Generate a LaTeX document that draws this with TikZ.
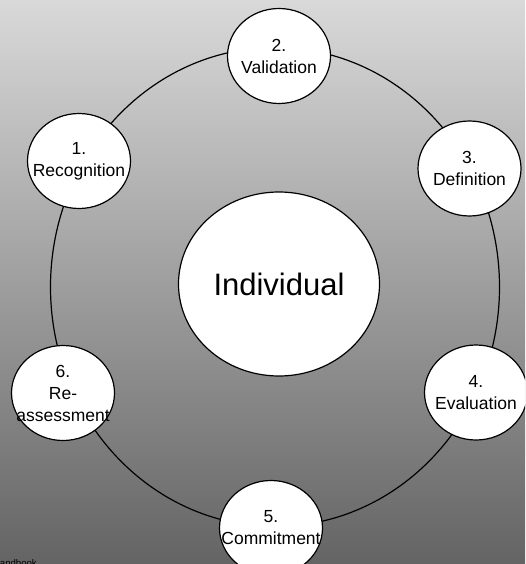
\documentclass[tikz,border=0pt]{standalone}
\usepackage{fontspec}
\setmainfont{Liberation Sans}
\usepackage{xcolor}
\usetikzlibrary{shapes.geometric}

\definecolor{bgtop}{RGB}{217,217,217}
\definecolor{bgmid}{RGB}{168,168,168}
\definecolor{bgbot}{RGB}{100,100,100}

\tikzset{
  stage/.style={ellipse, draw=black, line width=1.2pt, fill=white,
    minimum width=103pt, minimum height=95pt, inner sep=0pt},
  core/.style={ellipse, draw=black, line width=1.2pt, fill=white,
    minimum width=201pt, minimum height=184pt, inner sep=0pt,
    font=\fontsize{31}{36}\selectfont},
  steptext/.style={align=center, font=\fontsize{17.5}{22}\selectfont}
}

\begin{document}
\begin{tikzpicture}[x=1pt, y=-1pt]
        \useasboundingbox (0,0) rectangle (525,564);
        \clip (0,0) rectangle (525,564);
        \shade[top color=bgtop, middle color=bgmid, bottom color=bgbot] (0,0) rectangle (525,564);

        % the cycle
        \draw[line width=1.2pt] (275,287) ellipse (224.5 and 239.5);

        \node[core] (ind) at (279,284) {Individual};

        \node[stage, label={[steptext]center:{1.\\Recognition}}] (rec) at (79,161) {};
        \node[stage, label={[steptext]center:{2.\\Validation}}] (val) at (279,56) {};
        \node[stage, label={[steptext]center:{3.\\Definition}}] (def) at (469.5,168.5) {};
        \node[stage, label={[steptext]center:{4.\\Evaluation}}] (eva) at (476,392.5) {};
        \node[stage, label={[steptext]center:{5.\\Commitment}}] (com) at (271,528) {};
        \node[stage, label={[steptext]center:{6.\\Re-\\assessment}}] (rea) at (63,393) {};

        \node[anchor=base east, inner sep=0pt, font=\fontsize{9.6}{11}\selectfont] (src) at (37,566.5) {Handbook};
    \end{tikzpicture}
\end{document}
